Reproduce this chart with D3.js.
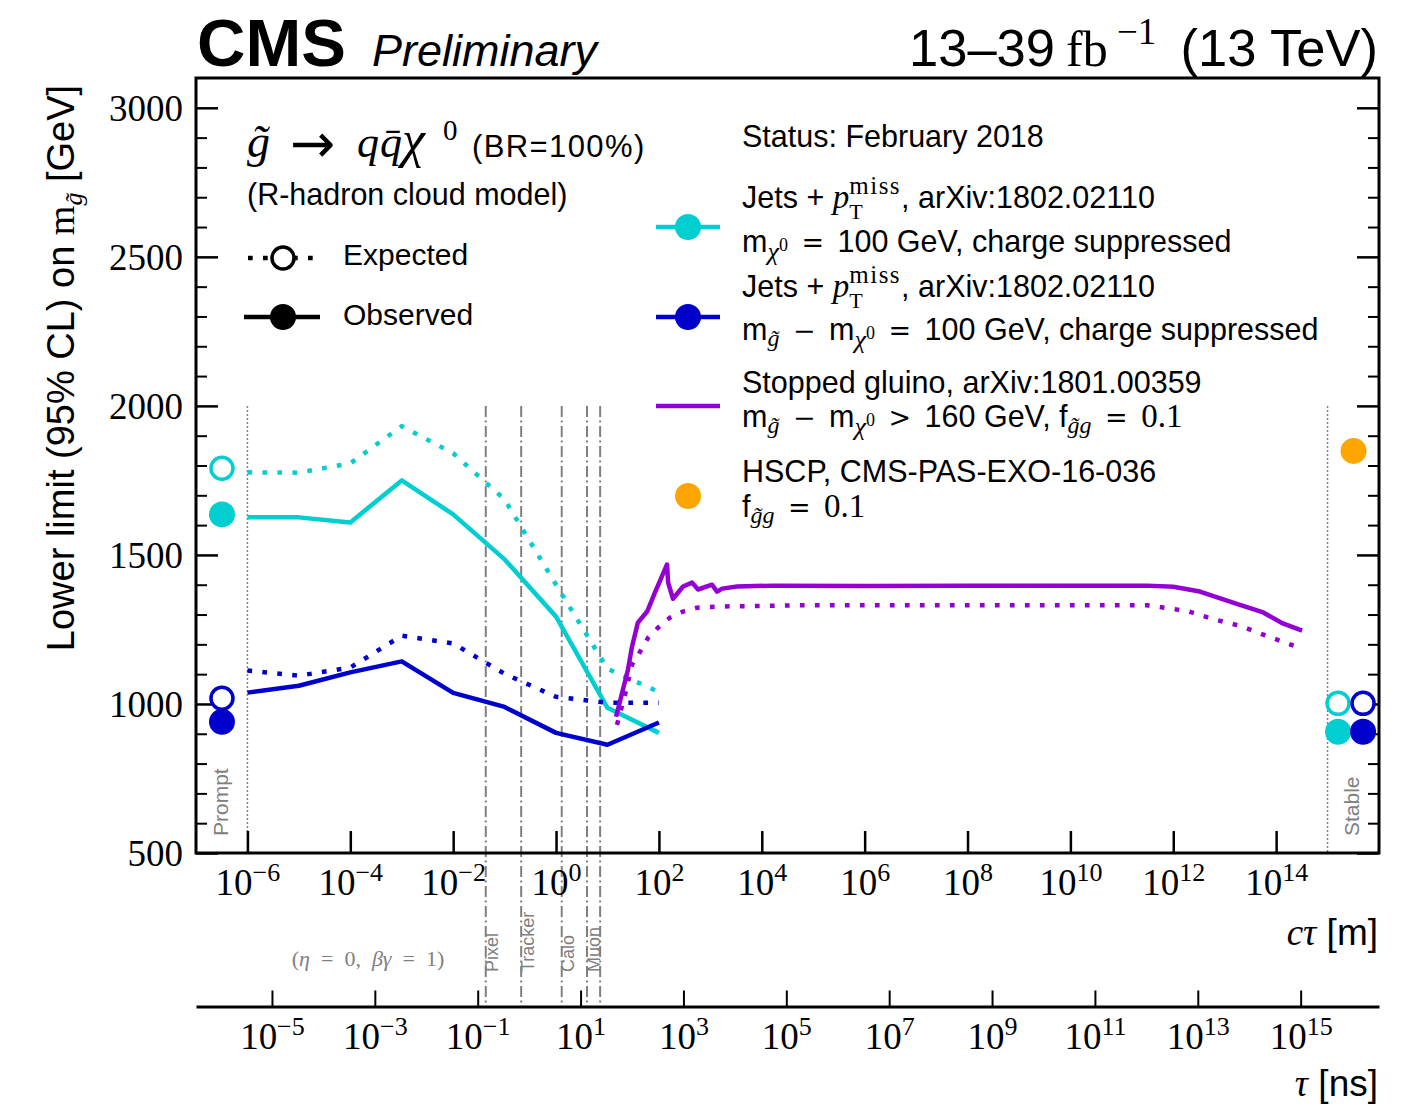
<!DOCTYPE html>
<html>
<head>
<meta charset="utf-8">
<script src="https://cdn.jsdelivr.net/npm/d3@7"></script>
<style>
  body { margin: 0; background: #fff; }
  svg { display: block; }
</style>
</head>
<body>
<svg id="chart" width="1410" height="1106"></svg>
<script>
// values (Feb 2018)

// jets + pTmiss scan, c*tau in metres
const ctauGrid = [1e-6, 1e-5, 1e-4, 1e-3, 1e-2, 1e-1, 1, 10, 100];
const cyanObserved = [1626, 1626, 1609, 1750, 1636, 1485, 1293, 987, 903];
const cyanExpected = [1777, 1776, 1807, 1932, 1841, 1686, 1400, 1118, 1040];
const blueObserved = [1038, 1061, 1106, 1143, 1037, 990, 903, 863, 938];
const blueExpected = [1112, 1095, 1122, 1229, 1203, 1101, 1024, 1004, 1004];

// stopped gluino
const stoppedObsCtau = [14.7, 25, 30, 39, 59, 84, 144, 151, 188, 295, 442, 577, 1080, 1350, 1690, 3310, 16600, 1e6, 1e8, 1e10, 3.1e11, 1e12, 3.3e12, 1.45e13, 5.6e13, 1.35e14, 3.2e14];
const stoppedObserved = [957, 1115, 1192, 1273, 1310, 1374, 1468, 1407, 1353, 1394, 1407, 1384, 1400, 1377, 1387, 1394, 1397, 1396, 1397, 1397, 1397, 1393, 1377, 1340, 1307, 1270, 1246];
const stoppedExpCtau = [15.3, 21.9, 30, 43, 61.5, 96, 165, 294, 552, 1690, 55000, 3.1e11, 1.86e12, 5.9e12, 2e13, 6.6e13, 2.6e14];
const stoppedExpected = [930, 1031, 1132, 1175, 1222, 1256, 1290, 1310, 1323, 1327, 1331, 1331, 1312, 1285, 1262, 1228, 1191];

// prompt / stable points: [cyan, blue]
const promptCtau = 3.2e-7;
const promptExpected = [1791, 1019];
const promptObserved = [1636, 940];
const stableCtau = [1.6e15, 4.9e15];
const stableExpected = [1002, 1002];
const stableObserved = [907, 907];
const hscpCtau = [3.2e15];
const hscpLimit = [1849];

// detector radii (m)
const detectorNames = ['Pixel', 'Tracker', 'Calo', 'Muon'];
const detectorCtau = [[0.043], [0.21], [1.29], [4.0, 7.2]];

// ticks
const ctauExponents = [-6, -4, -2, 0, 2, 4, 6, 8, 10, 12, 14];
const tauExponents = [-5, -3, -1, 1, 3, 5, 7, 9, 11, 13, 15];
const yMajor = [500, 1000, 1500, 2000, 2500, 3000];
const yMinor = d3.range(600, 3100, 100).filter(v => v % 500 !== 0);
const C_M_PER_NS = 0.2998;

const SANS = 'Liberation Sans, Arial, Helvetica, sans-serif';
const SERIF = 'Liberation Serif, Times New Roman, serif';
const OPS = 'DejaVu Serif, serif';
const CYAN = '#00ced1', BLUE = '#0000cd', PURPLE = '#9400d3', ORANGE = '#ffa500', GREY = '#808080';
const EN = '\u2002';

const svg = d3.select('#chart');
svg.append('rect').attr('width', 1410).attr('height', 1106).attr('fill', '#fff');

const plotL = 196, plotR = 1379, plotT = 78, plotB = 853, tauAxisY = 1006.5;

const x = d3.scaleLog().domain([1e-7, 1e16]).range([plotL, plotR]);
const y = d3.scaleLinear().domain([500, 3100]).range([plotB, plotT]);

// text with mixed fonts / sub- and superscripts
function rich(px, py, parts, opts = {}) {
    const t = svg.append('text')
        .attr('x', px).attr('y', py)
        .attr('text-anchor', opts.anchor || 'start')
        .attr('fill', opts.fill || '#000')
        .style('white-space', 'pre');
    if (opts.transform) t.attr('transform', opts.transform);
    let cur = 0;
    parts.forEach(p => {
        const fam = p.fam || ((!p.f || p.f === 'sans' || p.f === 'bold' || p.f === 'sansit') ? SANS : SERIF);
        const ts = t.append('tspan').text(p.t)
            .attr('font-family', fam)
            .attr('font-style', (p.f === 'it' || p.f === 'sansit') ? 'italic' : 'normal')
            .attr('font-weight', p.f === 'bold' ? 'bold' : 'normal')
            .attr('font-size', p.s || opts.size || 30);
        const off = p.o || 0;
        if (off !== cur) ts.attr('dy', off - cur);
        cur = off;
        if (p.dx) ts.attr('dx', p.dx);
        if (p.x != null) ts.attr('x', p.x);
        if (p.ls) ts.attr('letter-spacing', p.ls);
    });
    return t;
}

function powerLabels(axisG, exps, baseY) {
    axisG.selectAll('.tick text').each(function (d, i) {
        const t = d3.select(this).text(null).attr('dy', null).attr('y', baseY)
            .attr('font-family', SERIF).attr('font-size', 37).attr('fill', '#000');
        t.append('tspan').text('10');
        t.append('tspan').attr('dy', -14).attr('font-size', 26)
            .text(String(exps[i]).replace('-', '\u2212'));
    });
}

// ---- reference lines: prompt / stable / detector ----
svg.append('line')
    .attr('x1', x(1e-6)).attr('x2', x(1e-6)).attr('y1', y(2000)).attr('y2', plotB)
    .attr('stroke', GREY).attr('stroke-width', 1.5).attr('stroke-dasharray', '2 2');
svg.append('line')
    .attr('x1', x(1e15)).attr('x2', x(1e15)).attr('y1', y(2000)).attr('y2', plotB)
    .attr('stroke', GREY).attr('stroke-width', 1.5).attr('stroke-dasharray', '2 2');

rich(0, 0, [{ t: 'Prompt' }], { size: 21, fill: GREY, transform: `translate(${x(1e-6) - 19},836) rotate(-90)` });
rich(0, 0, [{ t: 'Stable' }], { size: 21, fill: GREY, transform: `translate(${x(1e15) + 31},836) rotate(-90)` });

detectorCtau.forEach((list, i) => {
    list.forEach(r => {
        svg.append('line')
            .attr('x1', x(r)).attr('x2', x(r)).attr('y1', y(2000)).attr('y2', tauAxisY)
            .attr('stroke', GREY).attr('stroke-width', 2).attr('stroke-dasharray', '11 3.5 2 3.5');
    });
    rich(0, 0, [{ t: detectorNames[i] }], { size: 18, fill: GREY, transform: `translate(${x(list[0]) + 12.5},972) rotate(-90)` });
});

rich(368, 966, [
    { t: '(', f: 'serif' }, { t: '\u03b7', f: 'it' }, { t: EN + '=' + EN + '0,' + EN, f: 'serif' },
    { t: '\u03b2\u03b3', f: 'it' }, { t: EN + '=' + EN + '1)', f: 'serif' }
], { anchor: 'middle', size: 22, fill: GREY });

// ---- axes ----
const xAxis = svg.append('g').attr('transform', `translate(0,${plotB})`)
    .call(d3.axisBottom(x).tickValues(ctauExponents.map(e => Math.pow(10, e)))
        .tickSizeInner(-22).tickSizeOuter(0).tickPadding(0));
xAxis.select('.domain').remove();
xAxis.selectAll('.tick line').attr('stroke', '#000').attr('stroke-width', 2.5);
powerLabels(xAxis, ctauExponents, 42);

const tauAxis = svg.append('g').attr('transform', `translate(0,${tauAxisY})`)
    .call(d3.axisBottom(x).tickValues(tauExponents.map(e => Math.pow(10, e) * C_M_PER_NS))
        .tickSizeInner(-16).tickSizeOuter(0).tickPadding(0));
tauAxis.select('.domain').attr('stroke', '#000').attr('stroke-width', 3);
tauAxis.selectAll('.tick line').attr('stroke', '#000').attr('stroke-width', 2);
powerLabels(tauAxis, tauExponents, 42.5);

const yAxis = svg.append('g').attr('transform', `translate(${plotL},0)`)
    .call(d3.axisLeft(y).tickValues(yMajor).tickFormat(d3.format('d'))
        .tickSizeInner(-22).tickSizeOuter(0).tickPadding(13));
yAxis.select('.domain').remove();
yAxis.selectAll('.tick line').attr('stroke', '#000').attr('stroke-width', 2.5);
yAxis.selectAll('.tick text').attr('font-family', SERIF).attr('font-size', 37).attr('fill', '#000').attr('dy', '0.34em');

const yMinorAxis = svg.append('g').attr('transform', `translate(${plotL},0)`)
    .call(d3.axisLeft(y).tickValues(yMinor).tickSize(-11).tickFormat(''));
yMinorAxis.select('.domain').remove();
yMinorAxis.selectAll('.tick line').attr('stroke', '#000').attr('stroke-width', 2);

const yRight = svg.append('g').attr('transform', `translate(${plotR},0)`)
    .call(d3.axisRight(y).tickValues(yMajor).tickSize(-22).tickFormat(''));
yRight.select('.domain').remove();
yRight.selectAll('.tick line').attr('stroke', '#000').attr('stroke-width', 2.5);
const yRightMinor = svg.append('g').attr('transform', `translate(${plotR},0)`)
    .call(d3.axisRight(y).tickValues(yMinor).tickSize(-11).tickFormat(''));
yRightMinor.select('.domain').remove();
yRightMinor.selectAll('.tick line').attr('stroke', '#000').attr('stroke-width', 2);

// ---- curves ----
const line = d3.line().x(d => x(d[0])).y(d => y(d[1]));
const DOTS = '4.7 10.3';

function drawSeries(ctau, vals, color, dotted) {
    svg.append('path')
        .datum(d3.zip(ctau, vals))
        .attr('d', line)
        .attr('fill', 'none')
        .attr('stroke', color)
        .attr('stroke-width', 4.5)
        .attr('stroke-linejoin', 'round')
        .attr('stroke-dasharray', dotted ? DOTS : null);
}

drawSeries(ctauGrid, cyanExpected, CYAN, true);
drawSeries(ctauGrid, cyanObserved, CYAN, false);
drawSeries(ctauGrid, blueExpected, BLUE, true);
drawSeries(ctauGrid, blueObserved, BLUE, false);
drawSeries(stoppedExpCtau, stoppedExpected, PURPLE, true);
drawSeries(stoppedObsCtau, stoppedObserved, PURPLE, false);

// ---- prompt / stable / HSCP markers ----
const colors = [CYAN, BLUE];
function openDot(cx, cy, color) {
    svg.append('circle').attr('cx', cx).attr('cy', cy).attr('r', 11)
        .attr('fill', '#fff').attr('stroke', color).attr('stroke-width', 3.5);
}
function fullDot(cx, cy, color) {
    svg.append('circle').attr('cx', cx).attr('cy', cy).attr('r', 13).attr('fill', color);
}
colors.forEach((c, i) => {
    openDot(x(promptCtau), y(promptExpected[i]), c);
    fullDot(x(promptCtau), y(promptObserved[i]), c);
    openDot(x(stableCtau[i]), y(stableExpected[i]), c);
    fullDot(x(stableCtau[i]), y(stableObserved[i]), c);
});
hscpCtau.forEach((c, i) => fullDot(x(c), y(hscpLimit[i]), ORANGE));

// ---- frame ----
svg.append('rect')
    .attr('x', plotL).attr('y', plotT).attr('width', plotR - plotL).attr('height', plotB - plotT)
    .attr('fill', 'none').attr('stroke', '#000').attr('stroke-width', 3);

// ---- header ----
rich(197, 66, [{ t: 'CMS', f: 'bold', s: 67 }]);
rich(372, 66, [{ t: 'Preliminary', f: 'sansit', s: 45 }]);
rich(909, 66, [{ t: '13\u201339', s: 52.5 }]);
rich(1066, 66, [{ t: 'fb', f: 'serif', s: 50 }]);
rich(1117, 44, [{ t: '\u22121', f: 'serif', s: 37 }]);
rich(1378, 66, [{ t: '(13 TeV)', s: 52.5 }], { anchor: 'end' });

// ---- axis titles ----
rich(0, 0, [
    { t: 'Lower limit (95% CL) on ' },
    { t: 'm', f: 'serif' },
    { t: 'g\u0303', f: 'it', s: 26, o: 8 },
    { t: ' [GeV]', o: 0 }
], { size: 38, anchor: 'middle', transform: 'translate(74,368) rotate(-90)' });

rich(1378, 945, [{ t: 'c\u03c4', f: 'it' }, { t: ' [m]' }], { size: 37, anchor: 'end' });
rich(1378, 1096, [{ t: '\u03c4', f: 'it' }, { t: ' [ns]' }], { size: 37, anchor: 'end' });

// ---- left legend ----
rich(0, 157, [
    { t: 'g\u0303', f: 'it', s: 46, x: 247 },
    { t: '\u2192', fam: 'DejaVu Sans, sans-serif', s: 54, o: 5, x: 290 },
    { t: 'q', f: 'it', s: 44, o: 0, x: 357 },
    { t: 'q\u0304', f: 'it', s: 44, x: 380 },
    { t: '\u03c7', f: 'it', s: 52, x: 402 },
    { t: '0', f: 'serif', s: 29, o: -17, x: 443 },
    { t: '(BR=100%)', s: 31, o: 0, x: 472, ls: 1.4 }
]);
rich(247, 205, [{ t: '(R-hadron cloud model)', s: 30.5 }]);

svg.append('line').attr('x1', 248).attr('x2', 318).attr('y1', 258).attr('y2', 258)
    .attr('stroke', '#000').attr('stroke-width', 4.5).attr('stroke-dasharray', DOTS);
openDot(283, 258, '#000');
rich(343, 265, [{ t: 'Expected' }]);

svg.append('line').attr('x1', 244).attr('x2', 320).attr('y1', 317).attr('y2', 317)
    .attr('stroke', '#000').attr('stroke-width', 4.5);
fullDot(283, 317, '#000');
rich(343, 325, [{ t: 'Observed' }]);

// ---- right legend ----
const LX = 742;
const FS = 30.5;
rich(LX, 147, [{ t: 'Status: February 2018' }], { size: FS });

const jetsLine = [
    { t: 'Jets + ' }, { t: 'p', f: 'it', s: 33 },
    { t: 'T', f: 'serif', s: 22, o: 11 }, { t: 'miss', f: 'serif', s: 25, o: -14, dx: -13.4, ls: 1.5 },
    { t: ', arXiv:1802.02110', o: 0 }
];
const op = sym => ({ t: EN + sym + EN, fam: OPS, s: 27, o: 0 });
const mChi = [{ t: 'm' }, { t: '\u03c7', f: 'it', s: 26, o: 8 }, { t: '0', f: 'serif', s: 18, o: -1 }];
const mGlu = [{ t: 'm' }, { t: 'g\u0303', f: 'it', s: 24, o: 6 }];
const fgg = [{ t: 'g\u0303g', f: 'it', s: 24, o: 6 }, op('='), { t: '0.1', f: 'serif', s: 33, o: 0 }];

rich(LX, 208, jetsLine, { size: FS });
rich(LX, 252, [...mChi, op('='), { t: '100 GeV, charge suppressed' }], { size: FS });
rich(LX, 297, jetsLine, { size: FS });
rich(LX, 340, [...mGlu, op('\u2212'), ...mChi, op('='), { t: '100 GeV, charge suppressed' }], { size: FS });
rich(LX, 393, [{ t: 'Stopped gluino, arXiv:1801.00359' }], { size: FS });
rich(LX, 427, [...mGlu, op('\u2212'), ...mChi, op('>'), { t: '160 GeV, f' }, ...fgg], { size: FS });
rich(LX, 482, [{ t: 'HSCP, CMS-PAS-EXO-16-036' }], { size: FS });
rich(LX, 517, [{ t: 'f' }, ...fgg], { size: FS });

[[CYAN, 227], [BLUE, 317]].forEach(([c, ly]) => {
    svg.append('line').attr('x1', 656).attr('x2', 720).attr('y1', ly).attr('y2', ly)
        .attr('stroke', c).attr('stroke-width', 4.5);
    fullDot(688, ly, c);
});
svg.append('line').attr('x1', 656).attr('x2', 720).attr('y1', 406).attr('y2', 406)
    .attr('stroke', PURPLE).attr('stroke-width', 4.5);
fullDot(688, 496, ORANGE);
</script>
</body>
</html>
